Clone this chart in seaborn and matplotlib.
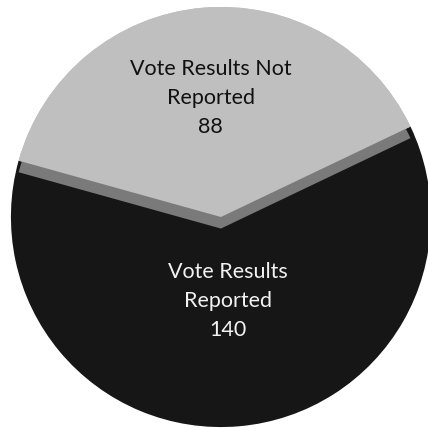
import numpy as np
import matplotlib.pyplot as plt
import seaborn as sns

# datos del grafico
categorias = ['Vote Results Not\nReported', 'Vote Results\nReported']
valores = [88, 140]
colores = ['#bfbfbf', '#161616']
color_borde = '#7a7a7a'
color_texto = ['#111111', '#f2f2f2']
radio_texto = [0.57, 0.40]

sns.set_theme(style='white')
plt.rcParams['font.family'] = ['Lato', 'DejaVu Sans']

fig = plt.figure(figsize=(4.28, 4.30), dpi=100)
ax = fig.add_axes([0, 0, 1, 1])

inicio = 25.5
# pastel base
wedges, _ = ax.pie(valores, colors=colores, startangle=inicio, counterclock=True,
                   wedgeprops=dict(linewidth=0))

# efecto 3D: lado gris de la porcion clara
sombra = 0.055
ax.pie([valores[0], valores[1]], colors=[color_borde, 'none'], startangle=inicio,
       counterclock=True, center=(0, -sombra), wedgeprops=dict(linewidth=0))
ax.pie([valores[0], valores[1]], colors=[colores[0], 'none'], startangle=inicio,
       counterclock=True, wedgeprops=dict(linewidth=0))

# etiquetas
for w, cat, v, c, r in zip(wedges, categorias, valores, color_texto, radio_texto):
    ang = np.deg2rad((w.theta1 + w.theta2) / 2)
    ax.text(r * np.cos(ang), r * np.sin(ang), f'{cat}\n{v}', ha='center', va='center',
            fontsize=15.5, color=c, linespacing=1.55)

ax.set_xlim(-1.052, 0.986)
ax.set_ylim(-1.014, 1.033)
ax.set_aspect('auto')
ax.axis('off')

fig.savefig('out.png', dpi=100, facecolor='white')
